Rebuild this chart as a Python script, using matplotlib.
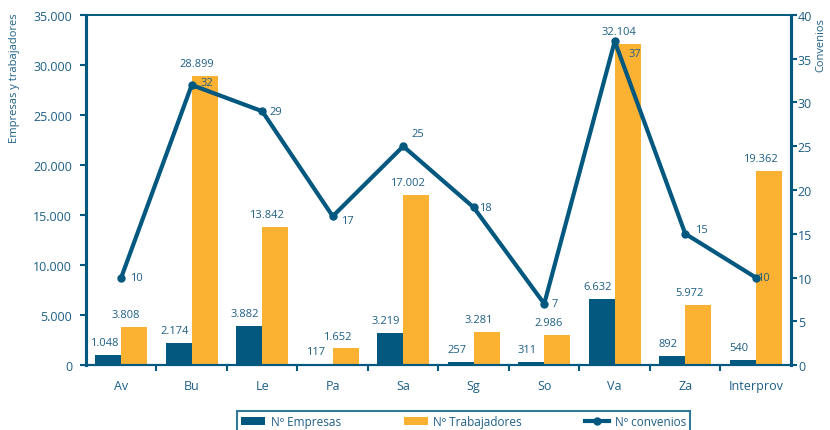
import matplotlib.pyplot as plt
import matplotlib.ticker as mticker
import numpy as np

# Data
provincias = ["Av", "Bu", "Le", "Pa", "Sa", "Sg", "So", "Va", "Za", "Interprov"]
empresas = [1048, 2174, 3882, 117, 3219, 257, 311, 6632, 892, 540]
trabajadores = [3808, 28899, 13842, 1652, 17002, 3281, 2986, 32104, 5972, 19362]
convenios = [10, 32, 29, 17, 25, 18, 7, 37, 15, 10]

# label offsets for the convenios numbers (points)
conv_offsets = [(6, 0), (6, 2), (5, 0), (6, -3), (6, 9), (4, 0), (5, 0), (10, -9), (7, 3), (1, 0)]

azul = "#02587F"
naranja = "#FBB131"
texto = "#1E5F86"

plt.rcParams["font.family"] = ["Open Sans", "DejaVu Sans"]

fig = plt.figure(figsize=(8.3, 4.31), dpi=100)
ax = fig.add_axes([0.1036, 0.1508, 0.8494, 0.8121])
ax2 = ax.twinx()

x = np.arange(len(provincias))
w = 0.37

b1 = ax.bar(x - w / 2, empresas, w, color=azul, label="Nº Empresas", zorder=2)
b2 = ax.bar(x + w / 2, trabajadores, w, color=naranja, label="Nº Trabajadores", zorder=2)


def miles(v):
    return f"{v:,}".replace(",", ".")


for xi, v in zip(x, empresas):
    ax.annotate(miles(v), (xi - w / 2, v), xytext=(-3, 5), textcoords="offset points",
                ha="center", va="bottom", fontsize=8, color=texto)
for xi, v in zip(x, trabajadores):
    ax.annotate(miles(v), (xi + w / 2, v), xytext=(-6, 5), textcoords="offset points",
                ha="center", va="bottom", fontsize=8, color=texto)

ln, = ax2.plot(x, convenios, color=azul, lw=3, marker="o", ms=5, label="Nº convenios", zorder=3)
for xi, v, off in zip(x, convenios, conv_offsets):
    ax2.annotate(str(v), (xi, v), xytext=off, textcoords="offset points",
                 ha="left", va="center", fontsize=8, color=texto)

ax.set_xlim(-0.5, len(provincias) - 0.5)
ax.set_ylim(0, 35000)
ax2.set_ylim(0, 40)
ax.yaxis.set_major_locator(mticker.MultipleLocator(5000))
ax.yaxis.set_major_formatter(mticker.FuncFormatter(lambda v, p: miles(int(v))))
ax2.yaxis.set_major_locator(mticker.MultipleLocator(5))

ax.set_xticks(x)
ax.set_xticklabels(provincias)
ax.set_xticks(np.arange(0.5, len(provincias) - 0.5, 1), minor=True)
ax.tick_params(axis="x", which="major", length=0, pad=10, labelsize=9, labelcolor=texto)
ax.tick_params(axis="x", which="minor", length=4, width=1.5, color=azul, direction="out")
ax.tick_params(axis="y", length=4, width=1.5, color=azul, labelsize=9, labelcolor=texto, pad=6)
ax2.tick_params(axis="y", length=4, width=1.5, color=azul, labelsize=9, labelcolor=texto, pad=1)

for a in (ax, ax2):
    a.spines["left"].set_linewidth(2.2)
    a.spines["right"].set_linewidth(2.2)
    a.spines["top"].set_linewidth(1.2)
    a.spines["bottom"].set_linewidth(1.5)
    for s in a.spines.values():
        s.set_color(azul)

ax.set_ylabel("Empresas y trabajadores", fontsize=8, color=texto)
ax.yaxis.set_label_coords(-0.094, 0.823)
ax2.set_ylabel("Convenios", fontsize=8, color=texto)
ax2.yaxis.set_label_coords(1.034, 0.917)

# legend box sits at the bottom edge, partly outside the figure
leg = fig.legend([b1, b2, ln], ["Nº Empresas", "Nº Trabajadores", "Nº convenios"],
                 loc="upper left", bbox_to_anchor=(0.2855, 0.0441, 0.546, 0),
                 mode="expand", ncol=3, fontsize=8.5, frameon=True, fancybox=False,
                 handlelength=2.0, handletextpad=0.5, borderaxespad=0, borderpad=0.35)
leg.get_frame().set_edgecolor(azul)
leg.get_frame().set_linewidth(1.5)
for t in leg.get_texts():
    t.set_color(texto)

fig.savefig("out.png", dpi=100)
